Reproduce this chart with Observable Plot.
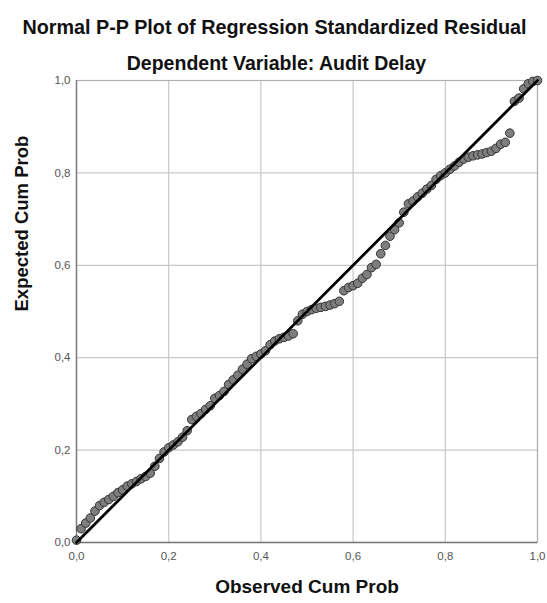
<!DOCTYPE html>
<html>
<head>
<meta charset="utf-8">
<script src="https://cdn.jsdelivr.net/npm/d3@7"></script>
<script src="https://cdn.jsdelivr.net/npm/@observablehq/plot@0.6"></script>
<style>
  body { margin: 0; background: #fff; font-family: "Liberation Sans", Arial, sans-serif; }
  #wrap { position: relative; width: 547px; height: 603px; overflow: hidden; }
  .t { position: absolute; left: 0; width: 547px; text-align: center; color: #111; font-weight: bold; white-space: nowrap; line-height: 22px; }
  #title { top: 16px; font-size: 19.8px; left: 1px; }
  #subtitle { top: 52px; font-size: 19.5px; left: 3px; }
</style>
</head>
<body>
<div id="wrap">
  <div class="t" id="title">Normal P-P Plot of Regression Standardized Residual</div>
  <div class="t" id="subtitle">Dependent Variable: Audit Delay</div>
</div>
<script>
const title = "Normal P-P Plot of Regression Standardized Residual";
const subtitle = "Dependent Variable: Audit Delay";
const xLabel = "Observed Cum Prob";
const yLabel = "Expected Cum Prob";
const tickValues = [0, 0.2, 0.4, 0.6, 0.8, 1.0];

const observed = [
  0.00, 0.01, 0.02, 0.03, 0.04, 0.05, 0.06, 0.07, 0.08, 0.09,
  0.10, 0.11, 0.12, 0.13, 0.14, 0.15, 0.16, 0.17, 0.18, 0.19,
  0.20, 0.21, 0.22, 0.23, 0.24, 0.25, 0.26, 0.27, 0.28, 0.29,
  0.30, 0.31, 0.32, 0.33, 0.34, 0.35, 0.36, 0.37, 0.38, 0.39,
  0.40, 0.41, 0.42, 0.43, 0.44, 0.45, 0.46, 0.47, 0.48, 0.49,
  0.50, 0.51, 0.52, 0.53, 0.54, 0.55, 0.56, 0.57, 0.58, 0.59,
  0.60, 0.61, 0.62, 0.63, 0.64, 0.65, 0.66, 0.67, 0.68, 0.69,
  0.70, 0.71, 0.72, 0.73, 0.74, 0.75, 0.76, 0.77, 0.78, 0.79,
  0.80, 0.81, 0.82, 0.83, 0.84, 0.85, 0.86, 0.87, 0.88, 0.89,
  0.90, 0.91, 0.92, 0.93, 0.94, 0.95, 0.96, 0.97, 0.98, 0.99, 1.00
];
const expected = [
  0.005, 0.030, 0.042, 0.053, 0.068, 0.080, 0.087, 0.093, 0.100, 0.108,
  0.114, 0.122, 0.127, 0.132, 0.138, 0.143, 0.150, 0.165, 0.182, 0.196,
  0.205, 0.211, 0.218, 0.228, 0.242, 0.266, 0.273, 0.279, 0.288, 0.296,
  0.312, 0.318, 0.327, 0.342, 0.352, 0.362, 0.375, 0.386, 0.398, 0.403,
  0.408, 0.415, 0.428, 0.436, 0.441, 0.444, 0.447, 0.452, 0.480, 0.494,
  0.500, 0.504, 0.507, 0.509, 0.511, 0.514, 0.517, 0.522, 0.545, 0.552,
  0.556, 0.561, 0.572, 0.580, 0.595, 0.602, 0.625, 0.643, 0.663, 0.677,
  0.692, 0.715, 0.733, 0.739, 0.748, 0.756, 0.765, 0.773, 0.786, 0.794,
  0.800, 0.808, 0.815, 0.823, 0.830, 0.834, 0.837, 0.839, 0.841, 0.844,
  0.847, 0.853, 0.862, 0.866, 0.886, 0.955, 0.962, 0.982, 0.993, 0.998, 1.000
];
const refX = [0, 1];
const refY = [0, 1];

const points = observed.map((x, i) => ({x, y: expected[i]}));
const refLine = refX.map((x, i) => ({x, y: refY[i]}));
const fmt = d => d.toFixed(1).replace(".", ",");

const chart = Plot.plot({
  width: 547,
  height: 603,
  marginLeft: 76,
  marginRight: 10,
  marginTop: 80,
  marginBottom: 61,
  style: { fontFamily: "Liberation Sans, Arial, sans-serif", background: "transparent", overflow: "visible" },
  x: { domain: [0, 1], ticks: tickValues, tickFormat: fmt, tickSize: 0, tickPadding: 9, label: null },
  y: { domain: [0, 1], ticks: tickValues, tickFormat: fmt, tickSize: 0, tickPadding: 6, label: null },
  marks: [
    Plot.gridX(tickValues, { stroke: "#c8c8c8", strokeOpacity: 1, strokeWidth: 1.2 }),
    Plot.gridY(tickValues, { stroke: "#c8c8c8", strokeOpacity: 1, strokeWidth: 1.2 }),
    Plot.frame({ stroke: "#b0b0b0", strokeWidth: 1.2 }),
    Plot.ruleX([0], { stroke: "#777", strokeWidth: 1.3 }),
    Plot.ruleY([0], { stroke: "#777", strokeWidth: 1.3 }),
    Plot.axisX({ ticks: tickValues, tickFormat: fmt, tickSize: 0, tickPadding: 9, fontSize: 11.5, fill: "#555", label: null }),
    Plot.axisY({ ticks: tickValues, tickFormat: fmt, tickSize: 0, tickPadding: 6, fontSize: 11.5, fill: "#555", label: null }),
    Plot.dot(points, { x: "x", y: "y", r: 4.3, fill: "#7e7e7e", stroke: "#333", strokeWidth: 1 }),
    Plot.line(refLine, { x: "x", y: "y", stroke: "#000", strokeWidth: 2.8 }),
    Plot.text([xLabel], { frameAnchor: "bottom", dy: 50, fontSize: 19, fontWeight: "bold", fill: "#111", text: d => d }),
    Plot.text([yLabel], { frameAnchor: "left", dx: -54, rotate: -90, fontSize: 18.5, fontWeight: "bold", fill: "#111", text: d => d })
  ]
});
chart.style.position = "absolute";
chart.style.left = "0px";
chart.style.top = "0px";
document.getElementById("wrap").prepend(chart);
</script>
</body>
</html>
